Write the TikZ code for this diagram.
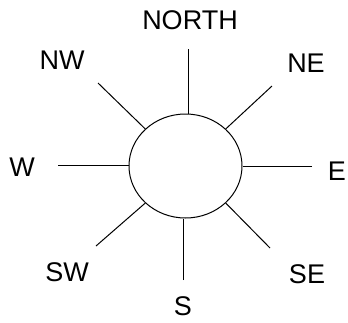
\documentclass[tikz,border=0pt]{standalone}
\usepackage{fontspec}
\setmainfont{Liberation Sans}
\usetikzlibrary{shapes.geometric}

\begin{document}
\begin{tikzpicture}[x=1pt,y=-1pt,
  lbl/.style={font=\fontsize{27}{27}\selectfont,inner sep=0pt},
  ray/.style={line width=1pt}]
\useasboundingbox (0,0) rectangle (348,322);

\node[ellipse,draw,line width=1pt,minimum width=113pt,minimum height=104pt,inner sep=0pt] (sun) at (185.5,166) {};

\coordinate (n) at (188,49);
\coordinate (s) at (183,280);
\coordinate (w) at (58,165);
\coordinate (e) at (312,166);
\coordinate (nw) at (98,83);
\coordinate (ne) at (272,86);
\coordinate (sw) at (96,246);
\coordinate (se) at (270,248);

\draw[ray] (n) -- (n |- sun.north);
\draw[ray] (s) -- (s |- sun.south);
\draw[ray] (w) -- (w -| sun.west);
\draw[ray] (e) -- (e -| sun.east);
\draw[ray] (nw) -- (sun.north west);
\draw[ray] (ne) -- (sun.north east);
\draw[ray] (sw) -- (sun.south west);
\draw[ray] (se) -- (sun.south east);

\node[lbl] (north) at (190,20) {NORTH};
\node[lbl] (lnw) at (62,60) {NW};
\node[lbl] (lne) at (306,63) {NE};
\node[lbl] (lw) at (22,167) {W};
\node[lbl] (le) at (337,171) {E};
\node[lbl] (lsw) at (67,272) {SW};
\node[lbl] (lse) at (307,274) {SE};
\node[lbl] (ls) at (183,306) {S};

\end{tikzpicture}
\end{document}
